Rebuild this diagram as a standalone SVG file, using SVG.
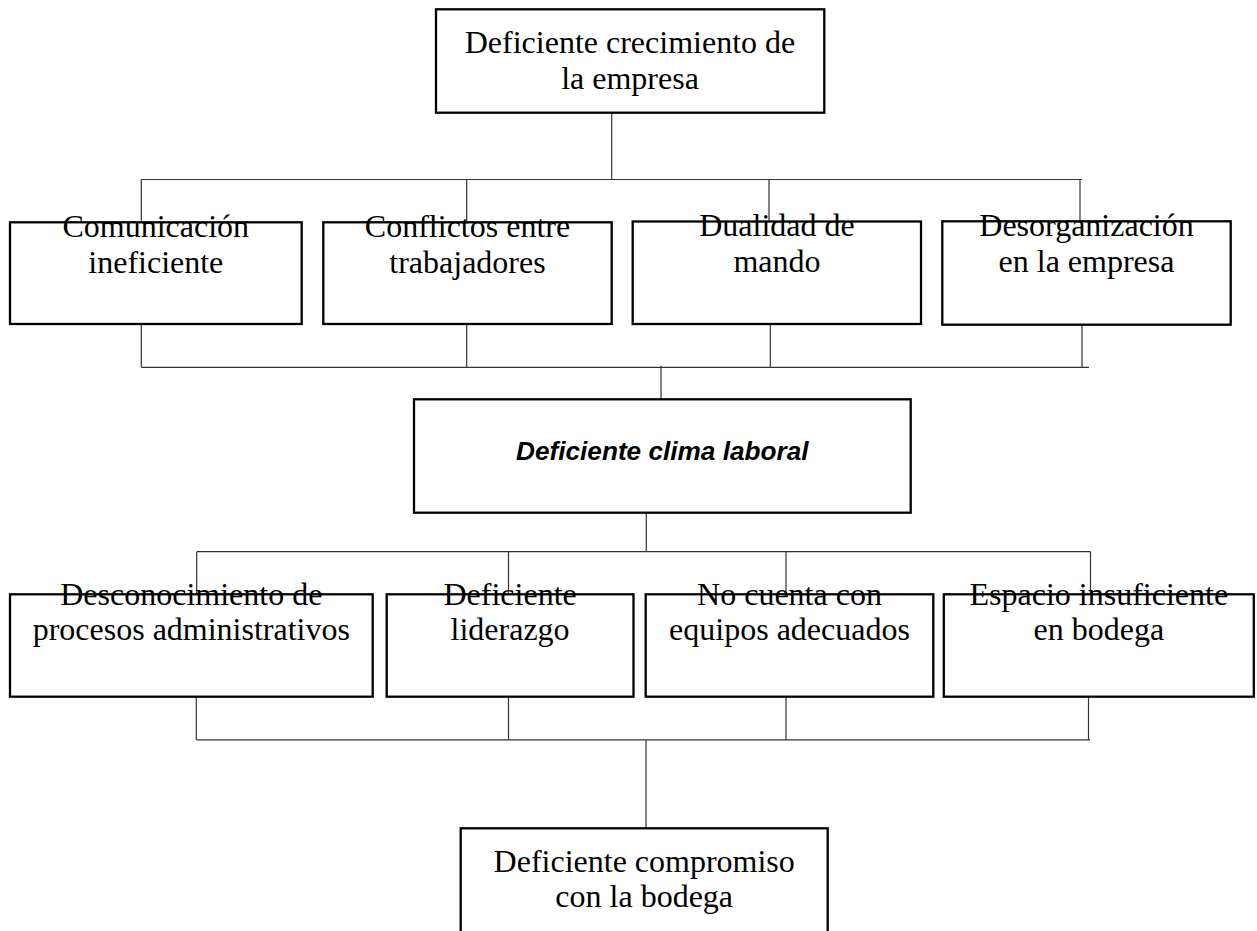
<svg xmlns="http://www.w3.org/2000/svg" width="1257" height="931" viewBox="0 0 1257 931">
<style>
.box{fill:#fff;stroke:#000;stroke-width:2.3}
.t{font-family:"Liberation Serif","Times New Roman",serif;font-size:32px;fill:#000;text-anchor:middle}
.tb{font-family:"Liberation Sans",Arial,sans-serif;font-size:26.2px;font-weight:bold;font-style:italic;fill:#000;text-anchor:middle}
.c{fill:none;stroke:#333;stroke-width:1.2}
</style>
<rect width="1257" height="931" fill="#fff"/>
<g id="connectors">
<path class="c" d="M611.7,112.7V179.5M141.3,179.5H1082M141.3,179.5V222M466.7,179.5V222M769,179.5V222M1080,179.5V222"/>
<path class="c" d="M141.3,324V367.3M466.7,324V367.3M770.3,324V367.3M1082,324V367.3M141.3,367.3H1089M661,366V399.5"/>
<path class="c" d="M646.3,512.7V551.7M196.7,551.7H1090.5M196.7,551.7V594.3M508.5,551.7V594.3M786,551.7V594.3M1090.5,551.7V594.3"/>
<path class="c" d="M196.3,696.7V739.8M508.5,696.7V739.8M786,696.7V739.8M1088.5,696.7V739.8M196.3,739.8H1090M646,739.8V828.3"/>
</g>
<g id="n_top">
<rect class="box" x="436" y="9.3" width="388.3" height="103.4"/>
<text class="t" x="630" y="53.3">Deficiente crecimiento de</text>
<text class="t" x="630" y="89.3">la empresa</text>
</g>
<g id="n_comunicacion">
<rect class="box" x="10" y="222.3" width="291.7" height="101.7"/>
<text class="t" x="155.8" y="236.7">Comunicación</text>
<text class="t" x="155.8" y="272.7">ineficiente</text>
</g>
<g id="n_conflictos">
<rect class="box" x="323.3" y="222.3" width="288.4" height="101.7"/>
<text class="t" x="467.5" y="236.7">Conflictos entre</text>
<text class="t" x="467.5" y="272.7">trabajadores</text>
</g>
<g id="n_dualidad">
<rect class="box" x="632.7" y="221.5" width="288.3" height="102.5"/>
<text class="t" x="777" y="236.2">Dualidad de</text>
<text class="t" x="777" y="272.2">mando</text>
</g>
<g id="n_desorganizacion">
<rect class="box" x="942.3" y="221.3" width="288.4" height="103.4"/>
<text class="t" x="1086.5" y="236.2">Desorganización</text>
<text class="t" x="1086.5" y="272.2">en la empresa</text>
</g>
<g id="n_clima">
<rect class="box" x="414" y="399.3" width="496.7" height="113.4"/>
<text class="tb" x="662.3" y="460">Deficiente clima laboral</text>
</g>
<g id="n_desconocimiento">
<rect class="box" x="10" y="594.3" width="362.7" height="102.4"/>
<text class="t" x="191.3" y="604.5">Desconocimiento de</text>
<text class="t" x="191.3" y="640.3">procesos administrativos</text>
</g>
<g id="n_liderazgo">
<rect class="box" x="386.7" y="594.3" width="246.8" height="102.4"/>
<text class="t" x="510.1" y="604.5">Deficiente</text>
<text class="t" x="510.1" y="640.3">liderazgo</text>
</g>
<g id="n_equipos">
<rect class="box" x="645.7" y="594.3" width="287.6" height="102.4"/>
<text class="t" x="789.5" y="604.5">No cuenta con</text>
<text class="t" x="789.5" y="640.3">equipos adecuados</text>
</g>
<g id="n_espacio">
<rect class="box" x="943.8" y="594.3" width="310" height="102.4"/>
<text class="t" x="1098.8" y="604.5">Espacio insuficiente</text>
<text class="t" x="1098.8" y="640.3">en bodega</text>
</g>
<g id="n_compromiso">
<rect class="box" x="460.7" y="828.3" width="367" height="115"/>
<text class="t" x="644.2" y="871.7">Deficiente compromiso</text>
<text class="t" x="644.2" y="906.7">con la bodega</text>
</g>
</svg>
